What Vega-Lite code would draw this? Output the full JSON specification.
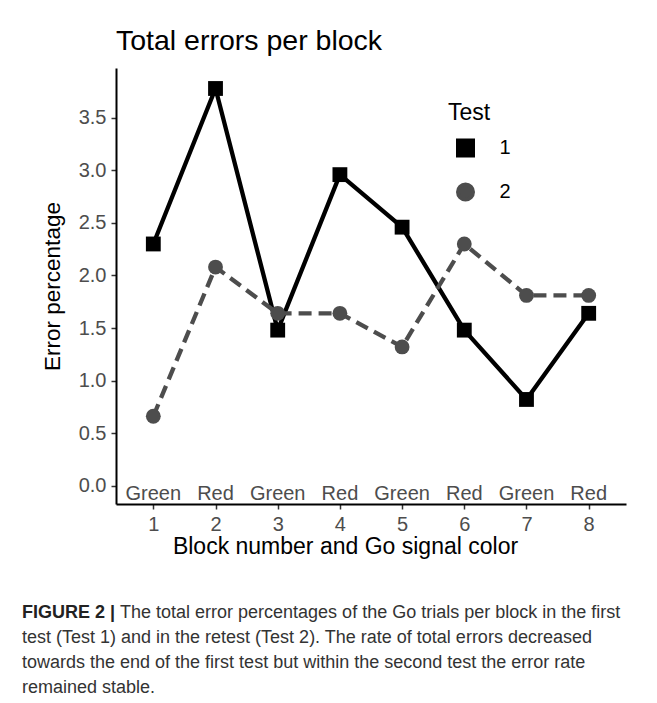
{
  "$schema": "https://vega.github.io/schema/vega-lite/v6.json",
  "background": "white",
  "padding": {"left": 22, "top": 26, "right": 5, "bottom": 5},
  "bounds": "flush",
  "spacing": 96.5,
  "datasets": {
    "errors": [
      {"block": 1, "test": "1", "value": 2.30},
      {"block": 2, "test": "1", "value": 3.78},
      {"block": 3, "test": "1", "value": 1.48},
      {"block": 4, "test": "1", "value": 2.96},
      {"block": 5, "test": "1", "value": 2.46},
      {"block": 6, "test": "1", "value": 1.48},
      {"block": 7, "test": "1", "value": 0.82},
      {"block": 8, "test": "1", "value": 1.64},
      {"block": 1, "test": "2", "value": 0.66},
      {"block": 2, "test": "2", "value": 2.08},
      {"block": 3, "test": "2", "value": 1.64},
      {"block": 4, "test": "2", "value": 1.64},
      {"block": 5, "test": "2", "value": 1.32},
      {"block": 6, "test": "2", "value": 2.30},
      {"block": 7, "test": "2", "value": 1.81},
      {"block": 8, "test": "2", "value": 1.81}
    ],
    "signals": [
      {"block": 1, "signal": "Green"},
      {"block": 2, "signal": "Red"},
      {"block": 3, "signal": "Green"},
      {"block": 4, "signal": "Red"},
      {"block": 5, "signal": "Green"},
      {"block": 6, "signal": "Red"},
      {"block": 7, "signal": "Green"},
      {"block": 8, "signal": "Red"}
    ],
    "caption": [
      {"line": 1, "part": "bold", "text": "FIGURE 2 |"},
      {"line": 1, "part": "first", "text": "The total error percentages of the Go trials per block in the first"},
      {"line": 2, "part": "rest", "text": "test (Test 1) and in the retest (Test 2). The rate of total errors decreased"},
      {"line": 3, "part": "rest", "text": "towards the end of the first test but within the second test the error rate"},
      {"line": 4, "part": "rest", "text": "remained stable."}
    ]
  },
  "vconcat": [
    {
      "width": 510,
      "height": 436,
      "title": {
        "text": "Total errors per block",
        "anchor": "start",
        "frame": "group",
        "font": "Liberation Sans",
        "fontSize": 28.5,
        "fontWeight": "normal",
        "color": "#000000",
        "offset": 13
      },
      "layer": [
        {
          "data": {"name": "signals"},
          "mark": {"type": "text", "baseline": "top", "align": "center", "font": "Liberation Sans", "fontSize": 20, "color": "#4d4d4d", "dy": -1.5},
          "encoding": {
            "x": {
              "field": "block",
              "type": "quantitative",
              "scale": {"domain": [0.4, 8.6], "nice": false, "zero": false},
              "axis": {"values": [1, 2, 3, 4, 5, 6, 7, 8], "format": "d", "title": "Block number and Go signal color", "labelPadding": 5, "titlePadding": 1, "titleX": 229}
            },
            "y": {
              "datum": 0,
              "type": "quantitative",
              "scale": {"domain": [-0.175, 3.975], "nice": false, "zero": false},
              "axis": {"values": [0, 0.5, 1, 1.5, 2, 2.5, 3, 3.5], "format": ".1f", "title": "Error percentage", "labelPadding": 5, "titlePadding": 14, "titleFontSize": 22.5}
            },
            "text": {"field": "signal"}
          }
        },
        {
          "data": {"name": "errors"},
          "transform": [{"filter": "datum.test === '1'"}],
          "mark": {"type": "line", "strokeWidth": 4.3, "strokeJoin": "round"},
          "encoding": {
            "x": {"field": "block", "type": "quantitative"},
            "y": {"field": "value", "type": "quantitative"},
            "color": {"field": "test", "type": "nominal"}
          }
        },
        {
          "data": {"name": "errors"},
          "transform": [{"filter": "datum.test === '2'"}],
          "mark": {"type": "line", "strokeWidth": 4.3, "strokeJoin": "round", "strokeDash": [13, 7]},
          "encoding": {
            "x": {"field": "block", "type": "quantitative"},
            "y": {"field": "value", "type": "quantitative"},
            "color": {"field": "test", "type": "nominal"}
          }
        },
        {
          "data": {"name": "errors"},
          "mark": {"type": "point", "filled": true, "opacity": 1, "size": 220},
          "encoding": {
            "x": {"field": "block", "type": "quantitative"},
            "y": {"field": "value", "type": "quantitative"},
            "shape": {"field": "test", "type": "nominal", "scale": {"domain": ["1", "2"], "range": ["square", "circle"]}, "legend": null},
            "color": {
              "field": "test",
              "type": "nominal",
              "scale": {"domain": ["1", "2"], "range": ["#000000", "#4d4d4d"]},
              "legend": {
                "title": "Test",
                "orient": "none",
                "legendX": 332,
                "legendY": 34,
                "padding": 0,
                "titleFont": "Liberation Sans",
                "titleFontSize": 23,
                "titleFontWeight": "normal",
                "titleColor": "#000000",
                "titlePadding": 13,
                "labelFont": "Liberation Sans",
                "labelFontSize": 20,
                "labelColor": "#000000",
                "labelOffset": 24,
                "symbolSize": 225,
                "symbolOffset": 7.5,
                "symbolStrokeWidth": 4,
                "rowPadding": 12
              }
            }
          }
        }
      ]
    },
    {
      "width": 510,
      "height": {"step": 25},
      "data": {"name": "caption"},
      "encoding": {
        "x": {"datum": 0, "type": "quantitative", "scale": {"domain": [0, 1]}, "axis": null},
        "y": {"field": "line", "type": "ordinal", "scale": {"type": "band", "paddingInner": 0, "paddingOuter": 0}, "axis": null},
        "text": {"field": "text"}
      },
      "layer": [
        {
          "transform": [{"filter": "datum.part === 'bold'"}],
          "mark": {"type": "text", "align": "left", "baseline": "middle", "dx": -94, "font": "Liberation Sans", "fontSize": 18, "fontWeight": "bold", "color": "#222222"}
        },
        {
          "transform": [{"filter": "datum.part === 'first'"}],
          "mark": {"type": "text", "align": "left", "baseline": "middle", "dx": 4, "font": "Liberation Sans", "fontSize": 18, "color": "#333333"}
        },
        {
          "transform": [{"filter": "datum.part === 'rest'"}],
          "mark": {"type": "text", "align": "left", "baseline": "middle", "dx": -94, "font": "Liberation Sans", "fontSize": 18, "color": "#333333"}
        }
      ]
    }
  ],
  "config": {
    "view": {"stroke": null},
    "axis": {
      "grid": false,
      "domainColor": "#000000",
      "domainWidth": 2,
      "tickColor": "#333333",
      "tickWidth": 1.5,
      "tickSize": 5,
      "labelFont": "Liberation Sans",
      "labelFontSize": 20,
      "labelColor": "#4d4d4d",
      "titleFont": "Liberation Sans",
      "titleFontSize": 23,
      "titleFontWeight": "normal",
      "titleColor": "#000000"
    }
  }
}
